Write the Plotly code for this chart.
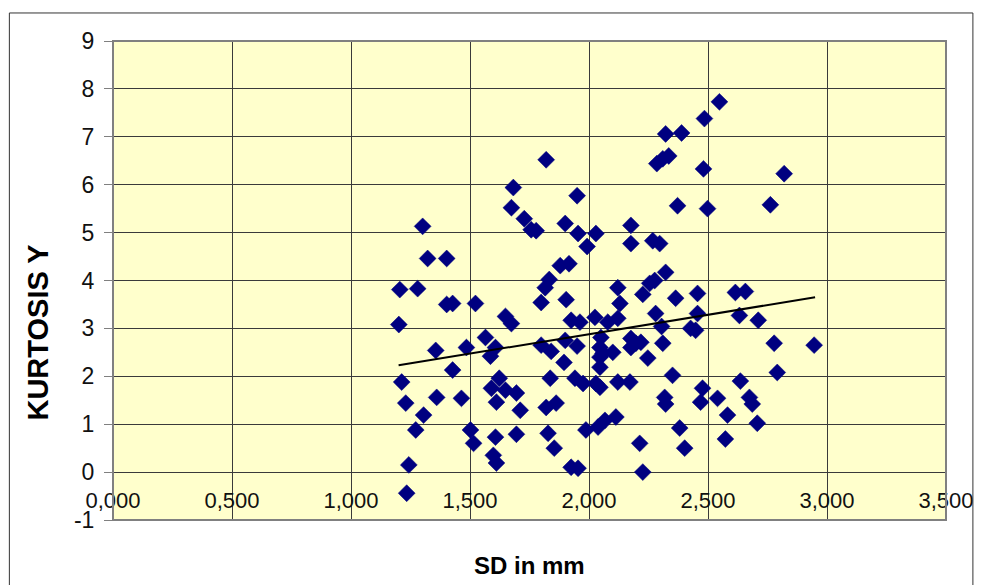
import plotly.graph_objects as go

# ---- data ----
sd_mm = [1.820, 1.682, 1.950, 1.674, 1.728, 1.757, 1.778, 1.900, 1.954, 2.029,
         1.992, 1.301, 1.322, 1.402, 1.879, 1.916, 1.833, 1.816, 1.799, 1.904,
         2.548, 2.485, 2.322, 2.389, 2.285, 2.310, 2.335, 2.481, 2.820, 2.372,
         2.498, 2.762, 2.176, 2.176, 2.268, 2.297, 2.322, 2.255, 2.276, 2.121,
         1.205, 1.280, 1.402, 1.427, 1.523, 2.130, 2.226, 2.364, 2.456, 2.615,
         2.657, 1.201, 1.649, 1.674, 1.925, 1.962, 2.025, 2.079, 2.121, 2.280,
         2.305, 2.456, 2.427, 2.448, 2.632, 2.711, 1.565, 1.356, 1.485, 1.586,
         1.607, 1.799, 1.841, 1.900, 1.950, 2.050, 2.046, 2.059, 2.100, 2.046,
         2.046, 2.176, 2.197, 2.218, 2.176, 2.310, 2.247, 2.778, 2.946, 2.791,
         1.427, 1.895, 1.213, 1.623, 1.590, 1.649, 1.611, 1.695, 1.837, 1.941,
         1.975, 2.029, 2.046, 2.121, 2.172, 2.351, 2.636, 2.477, 2.469, 2.540,
         2.318, 2.322, 2.674, 2.686, 2.582, 2.707, 1.360, 1.464, 1.230, 1.711,
         1.820, 1.862, 1.305, 1.272, 1.502, 1.515, 1.607, 1.695, 1.828, 1.854,
         1.987, 2.038, 2.067, 2.113, 2.381, 2.213, 2.573, 2.402, 1.598, 1.611,
         1.243, 1.925, 1.954, 2.226, 1.234]

kurtosis_y = [6.52, 5.94, 5.77, 5.52, 5.29, 5.06, 5.04, 5.19, 4.98, 4.98,
              4.71, 5.13, 4.46, 4.46, 4.31, 4.35, 4.02, 3.85, 3.54, 3.60,
              7.73, 7.38, 7.06, 7.08, 6.44, 6.54, 6.60, 6.33, 6.23, 5.56,
              5.50, 5.58, 5.15, 4.77, 4.83, 4.77, 4.17, 3.94, 4.00, 3.85,
              3.81, 3.83, 3.50, 3.52, 3.52, 3.52, 3.71, 3.63, 3.73, 3.75,
              3.77, 3.08, 3.25, 3.10, 3.17, 3.13, 3.23, 3.13, 3.21, 3.31,
              3.04, 3.31, 3.00, 2.96, 3.27, 3.17, 2.81, 2.54, 2.60, 2.42,
              2.60, 2.65, 2.52, 2.75, 2.63, 2.81, 2.60, 2.48, 2.50, 2.40,
              2.19, 2.79, 2.69, 2.71, 2.60, 2.69, 2.38, 2.69, 2.65, 2.08,
              2.13, 2.29, 1.88, 1.96, 1.75, 1.71, 1.46, 1.65, 1.96, 1.96,
              1.85, 1.85, 1.77, 1.88, 1.88, 2.02, 1.90, 1.75, 1.46, 1.54,
              1.56, 1.42, 1.56, 1.42, 1.19, 1.02, 1.56, 1.54, 1.44, 1.29,
              1.35, 1.44, 1.19, 0.88, 0.88, 0.60, 0.73, 0.79, 0.81, 0.50,
              0.88, 0.94, 1.08, 1.15, 0.92, 0.60, 0.69, 0.50, 0.35, 0.19,
              0.15, 0.10, 0.08, 0.00, -0.44]

trend_x = [1.20, 2.95]
trend_y = [2.23, 3.65]

x_tick_vals = [0.0, 0.5, 1.0, 1.5, 2.0, 2.5, 3.0, 3.5]
x_tick_labels = ["0,000", "0,500", "1,000", "1,500", "2,000", "2,500", "3,000", "3,500"]
y_tick_vals = [-1, 0, 1, 2, 3, 4, 5, 6, 7, 8, 9]
y_tick_labels = ["-1", "0", "1", "2", "3", "4", "5", "6", "7", "8", "9"]

x_title = "SD in mm"
y_title = "KURTOSIS Y"

FONT = "Liberation Sans, Arial, sans-serif"

fig = go.Figure()
fig.add_trace(go.Scatter(
    x=sd_mm, y=kurtosis_y, mode="markers",
    marker=dict(symbol="diamond", size=13, color="#000080",
                line=dict(width=0.5, color="#000080")),
    showlegend=False, hoverinfo="x+y"))
fig.add_trace(go.Scatter(
    x=trend_x, y=trend_y, mode="lines",
    line=dict(color="black", width=2), showlegend=False, hoverinfo="skip"))

fig.update_layout(
    width=986, height=585,
    margin=dict(l=113, r=37, t=41, b=65),
    paper_bgcolor="white", plot_bgcolor="#FFFFCC",
    font=dict(family=FONT, size=22, color="black"),
    xaxis=dict(range=[0, 3.5], tickvals=x_tick_vals, ticktext=x_tick_labels,
               showgrid=True, gridcolor="#3a3a3a", gridwidth=1,
               zeroline=False, showline=False, ticks="",
               anchor="free", position=0.074,
               tickfont=dict(family=FONT, size=22, color="#111111")),
    yaxis=dict(range=[-1, 9], tickvals=y_tick_vals, ticktext=y_tick_labels,
               showgrid=True, gridcolor="#3a3a3a", gridwidth=1,
               zeroline=False, showline=False,
               ticks="outside", ticklen=8, tickcolor="#808080", tickwidth=1,
               ticklabelstandoff=5,
               tickfont=dict(family=FONT, size=23, color="#111111")),
    shapes=[
        dict(type="rect", xref="paper", yref="paper", x0=0, x1=1, y0=0, y1=1,
             line=dict(color="#808080", width=2), layer="above"),
        dict(type="rect", xref="paper", yref="paper",
             x0=-0.1244, x1=1.0323, y0=-0.16, y1=1.0585,
             line=dict(color="#333333", width=1), layer="above"),
    ],
    annotations=[
        dict(text="<b>" + x_title + "</b>", xref="paper", yref="paper",
             x=0.5, y=-0.096, showarrow=False, xanchor="center", yanchor="middle",
             font=dict(family=FONT, size=24, color="black")),
        dict(text="<b>" + y_title + "</b>", xref="paper", yref="paper",
             x=-0.0897, y=0.392, showarrow=False, textangle=-90,
             xanchor="center", yanchor="middle",
             font=dict(family=FONT, size=29, color="black")),
    ],
)

fig.write_html("out.html")
